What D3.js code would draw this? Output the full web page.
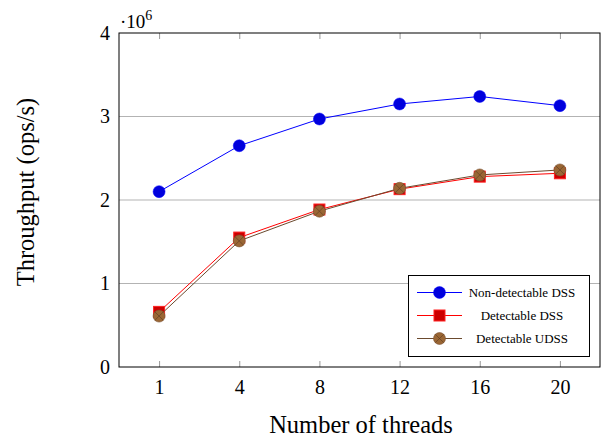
<!DOCTYPE html>
<html><head><meta charset="utf-8">
<script src="https://cdn.jsdelivr.net/npm/d3@7"></script>
</head><body style="margin:0">
<script>
const threads = ["1","4","8","12","16","20"];
const nonDetectableDSS = [2.10, 2.65, 2.97, 3.15, 3.24, 3.13];
const detectableDSS = [0.66, 1.55, 1.886, 2.13, 2.28, 2.32];
const detectableUDSS = [0.61, 1.51, 1.866, 2.14, 2.30, 2.36];
const yTicks = [0, 1, 2, 3, 4];
const seriesNames = ["Non-detectable DSS", "Detectable DSS", "Detectable UDSS"];

const FONT = "'Liberation Serif'";
const W = 607, H = 438;
const m = {l:119, r:7, t:33, b:71};
const svg = d3.select("body").append("svg").attr("width", W).attr("height", H).style("display", "block");
const x = d3.scalePoint().domain(threads).range([m.l, W - m.r]).padding(0.5);
const y = d3.scaleLinear().domain([0, 4]).range([H - m.b, m.t]);

// grid
svg.append("g").selectAll("line").data(yTicks.slice(1,4)).join("line")
  .attr("x1", m.l).attr("x2", W - m.r).attr("y1", d => y(d)).attr("y2", d => y(d))
  .attr("stroke", "#b3b3b3").attr("stroke-width", 1);

// axes
const xb = svg.append("g").attr("transform", `translate(0,${H - m.b})`)
  .call(d3.axisBottom(x).tickSizeInner(-6).tickSizeOuter(0).tickPadding(13));
xb.attr("font-family", null).attr("font-size", null);
xb.select(".domain").remove();
xb.selectAll(".tick line").attr("stroke", "#999");
xb.selectAll(".tick text").style("font-family", FONT).attr("font-size", 20).attr("fill", "#000");
const xt = svg.append("g").attr("transform", `translate(0,${m.t})`)
  .call(d3.axisTop(x).tickSizeInner(-6).tickSizeOuter(0).tickFormat(""));
xt.select(".domain").remove();
xt.selectAll(".tick line").attr("stroke", "#999");

const yl = svg.append("g").attr("transform", `translate(${m.l},0)`)
  .call(d3.axisLeft(y).tickValues(yTicks).tickSizeInner(0).tickSizeOuter(0).tickPadding(9).tickFormat(d3.format("d")));
yl.attr("font-family", null).attr("font-size", null);
yl.select(".domain").remove();
yl.selectAll(".tick text").style("font-family", FONT).attr("font-size", 20).attr("fill", "#000");

svg.append("rect").attr("x", m.l).attr("y", m.t).attr("width", W - m.r - m.l).attr("height", H - m.b - m.t)
  .attr("fill", "none").attr("stroke", "#000").attr("stroke-width", 1);

// exponent label
const ex = svg.append("text").attr("x", m.l + 1).attr("y", 28).style("font-family", FONT).attr("font-size", 19);
ex.append("tspan").text("·10");
ex.append("tspan").attr("font-size", 14).attr("dy", -8).text("6");

// axis labels
svg.append("text").attr("x", 361).attr("y", 433).attr("text-anchor", "middle").style("font-family", FONT).attr("font-size", 24.5).text("Number of threads");
svg.append("text").attr("transform", "translate(34,192) rotate(-90)").attr("text-anchor", "middle").style("font-family", FONT).attr("font-size", 24.5).text("Throughput (ops/s)");

const series = [
  {name: seriesNames[0], vals: nonDetectableDSS, line: "#0000ff", mark: "circle", fill: "#0000dd", stroke: "#0000ff"},
  {name: seriesNames[1], vals: detectableDSS, line: "#ff0000", mark: "square", fill: "#cc0000", stroke: "#ff2020"},
  {name: seriesNames[2], vals: detectableUDSS, line: "#6b4a2e", mark: "otimes", fill: "#9a6634", stroke: "#7a5030"}
];

function drawMarker(g, s, cx, cy) {
  if (s.mark === "circle") {
    g.append("circle").attr("cx", cx).attr("cy", cy).attr("r", 6).attr("fill", s.fill).attr("stroke", s.stroke).attr("stroke-width", 0.5);
  } else if (s.mark === "square") {
    g.append("rect").attr("x", cx - 5.5).attr("y", cy - 5.5).attr("width", 11).attr("height", 11).attr("fill", s.fill).attr("stroke", s.stroke).attr("stroke-width", 1);
  } else {
    g.append("circle").attr("cx", cx).attr("cy", cy).attr("r", 6).attr("fill", s.fill).attr("stroke", s.stroke).attr("stroke-width", 0.6);
    const k = 6 * Math.SQRT1_2;
    g.append("path").attr("d", `M${cx-k},${cy-k}L${cx+k},${cy+k}M${cx-k},${cy+k}L${cx+k},${cy-k}`).attr("stroke", "#5a3a20").attr("stroke-width", 0.6);
  }
}

const line = d3.line().x((d, i) => x(threads[i])).y(d => y(d));
series.forEach(s => {
  const g = svg.append("g");
  g.append("path").datum(s.vals).attr("d", line).attr("fill", "none").attr("stroke", s.line).attr("stroke-width", 1);
  s.vals.forEach((v, i) => drawMarker(g, s, x(threads[i]), y(v)));
});

// legend
const lg = svg.append("g");
lg.append("rect").attr("x", 408.5).attr("y", 275.5).attr("width", 181).attr("height", 81).attr("fill", "#fff").attr("stroke", "#000").attr("stroke-width", 1);
series.forEach((s, i) => {
  const cy = 292.5 + i * 23;
  lg.append("line").attr("x1", 417).attr("x2", 462).attr("y1", cy).attr("y2", cy).attr("stroke", s.line).attr("stroke-width", 1);
  drawMarker(lg, s, 439.5, cy);
  lg.append("text").attr("x", 522).attr("y", cy + 4).attr("text-anchor", "middle").style("font-family", FONT).attr("font-size", 13).text(s.name);
});
</script>
</body></html>
